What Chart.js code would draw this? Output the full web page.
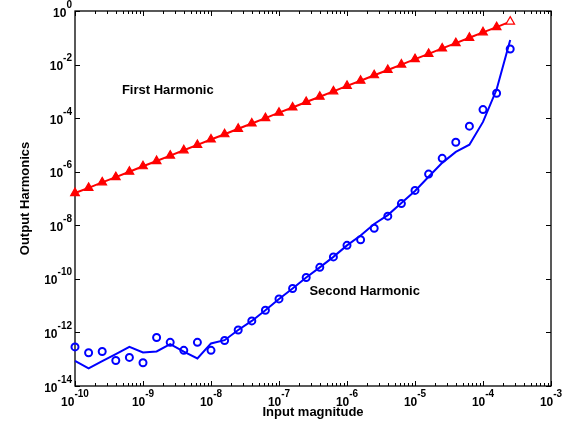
<!DOCTYPE html>
<html>
<head>
<meta charset="utf-8">
<script src="https://cdn.jsdelivr.net/npm/chart.js@4.4.0/dist/chart.umd.min.js"></script>
<style>
  body { margin: 0; background: #fff; }
</style>
</head>
<body>
<canvas id="harmonicos" width="574" height="425"></canvas>
<script>
// dados

const entrada = [
    1e-10, 1.585e-10, 2.512e-10, 3.981e-10, 6.31e-10,
    1e-9, 1.585e-9, 2.512e-9, 3.981e-9, 6.31e-9,
    1e-8, 1.585e-8, 2.512e-8, 3.981e-8, 6.31e-8,
    1e-7, 1.585e-7, 2.512e-7, 3.981e-7, 6.31e-7,
    1e-6, 1.585e-6, 2.512e-6, 3.981e-6, 6.31e-6,
    1e-5, 1.585e-5, 2.512e-5, 3.981e-5, 6.31e-5,
    1e-4, 1.585e-4, 2.512e-4
]

const primeiraHarmonica = [
    1.6e-7, 2.5e-7, 4.0e-7, 6.3e-7,
    1.0e-6, 1.6e-6, 2.5e-6, 4.0e-6, 6.3e-6,
    1.0e-5, 1.6e-5, 2.5e-5, 4.0e-5, 6.3e-5,
    1.0e-4, 1.6e-4, 2.5e-4, 4.0e-4, 6.3e-4,
    1.0e-3, 1.6e-3, 2.5e-3, 4.0e-3, 6.3e-3,
    1.0e-2, 1.6e-2, 2.5e-2, 4.0e-2, 6.3e-2,
    0.10, 0.16, 0.25, 0.40
]

// circulos
const segundaMedida = [
    2.88e-13, 1.74e-13, 1.95e-13, 8.91e-14, 1.17e-13,
    7.41e-14, 6.46e-13, 4.27e-13, 2.14e-13, 4.27e-13,
    2.14e-13, 5.01e-13, 1.23e-12, 2.69e-12, 6.76e-12,
    1.78e-11, 4.37e-11, 1.12e-10, 2.69e-10, 6.61e-10,
    1.78e-9, 2.88e-9, 7.76e-9, 2.19e-8, 6.46e-8,
    2.0e-7, 8.13e-7, 3.16e-6, 1.26e-5, 5.01e-5,
    2.09e-4, 8.51e-4, 3.80e-2
]

// linha continua
const segundaSimulada = [
    8.71e-14, 4.57e-14, 8.51e-14, 1.55e-13, 2.88e-13,
    1.78e-13, 1.95e-13, 3.63e-13, 1.91e-13, 1.07e-13,
    3.89e-13, 5.13e-13, 1.23e-12, 2.69e-12, 6.76e-12,
    1.78e-11, 4.37e-11, 1.12e-10, 2.69e-10, 6.61e-10,
    1.78e-9, 4.17e-9, 1.12e-8, 2.40e-8, 6.76e-8,
    1.91e-7, 6.46e-7, 2.14e-6, 5.50e-6, 1.02e-5,
    7.24e-5, 1.17e-3, 8.32e-2
]

const xTicks = [1e-10, 1e-9, 1e-8, 1e-7, 1e-6, 1e-5, 1e-4, 1e-3]
const xTickExp = ['-10', '-9', '-8', '-7', '-6', '-5', '-4', '-3']
const yTicks = [1, 1e-2, 1e-4, 1e-6, 1e-8, 1e-10, 1e-12, 1e-14]
const yTickExp = ['0', '-2', '-4', '-6', '-8', '-10', '-12', '-14']

const FONTE = '"Liberation Sans", Arial, Helvetica, sans-serif'

function pontos(ys){
    return entrada.map((v, i) => ({x: v, y: ys[i]}))
}

// escreve 10^exp com o expoente elevado
function potencia(ctx, exp, x, y, alinha){
    ctx.font = 'bold 12px ' + FONTE
    const wBase = ctx.measureText('10').width
    ctx.font = 'bold 10px ' + FONTE
    const wExp = ctx.measureText(exp).width
    let x0 = alinha === 'centro' ? x - (wBase + wExp) / 2 : x - wBase - wExp
    ctx.textAlign = 'left'
    ctx.textBaseline = 'alphabetic'
    ctx.font = 'bold 12px ' + FONTE
    ctx.fillText('10', x0, y)
    ctx.font = 'bold 10px ' + FONTE
    ctx.fillText(exp, x0 + wBase, y - 9)
}

const eixosMatlab = {
    id: 'eixosMatlab',
    beforeDatasetsDraw(chart){
        const {ctx, chartArea: a, scales: {x, y}} = chart
        ctx.save()
        ctx.strokeStyle = '#000'
        ctx.lineWidth = 1
        ctx.beginPath()
        // ticks do eixo x (maiores e menores), por dentro
        xTicks.forEach((t, i) => {
            const px = Math.round(x.getPixelForValue(t)) + 0.5
            ctx.moveTo(px, a.bottom); ctx.lineTo(px, a.bottom - 5)
            ctx.moveTo(px, a.top); ctx.lineTo(px, a.top + 5)
            if (i < xTicks.length - 1){
                for (let m = 2; m < 10; m++){
                    const pm = Math.round(x.getPixelForValue(t * m)) + 0.5
                    ctx.moveTo(pm, a.bottom); ctx.lineTo(pm, a.bottom - 3)
                    ctx.moveTo(pm, a.top); ctx.lineTo(pm, a.top + 3)
                }
            }
        })
        yTicks.forEach(t => {
            const py = Math.round(y.getPixelForValue(t)) + 0.5
            ctx.moveTo(a.left, py); ctx.lineTo(a.left + 5, py)
            ctx.moveTo(a.right, py); ctx.lineTo(a.right - 5, py)
        })
        ctx.stroke()
        ctx.lineWidth = 1.3
        ctx.strokeRect(a.left, a.top, a.width, a.height)
        ctx.restore()
    },
    afterDraw(chart){
        const {ctx, chartArea: a, scales: {x, y}} = chart
        ctx.save()
        ctx.fillStyle = '#000'
        xTicks.forEach((t, i) => {
            potencia(ctx, xTickExp[i], x.getPixelForValue(t), 406, 'centro')
        })
        yTicks.forEach((t, i) => {
            potencia(ctx, yTickExp[i], a.left - 3, y.getPixelForValue(t) + 5.5, 'direita')
        })
        // textos dentro do grafico
        ctx.font = 'bold 13px ' + FONTE
        ctx.textAlign = 'left'
        ctx.textBaseline = 'alphabetic'
        ctx.fillText('First Harmonic', x.getPixelForValue(4.9e-10), y.getPixelForValue(1.2e-3) + 4.5)
        ctx.fillText('Second Harmonic', x.getPixelForValue(2.8e-7), y.getPixelForValue(3.8e-11) + 4.5)
        ctx.restore()
    }
}

const ctx = document.getElementById('harmonicos').getContext('2d')

new Chart(ctx, {
    type: 'line',
    data: {
        datasets: [{
            label: 'First Harmonic',
            data: pontos(primeiraHarmonica),
            borderColor: '#ff0000',
            borderWidth: 2,
            pointStyle: 'triangle',
            pointRadius: 5,
            pointBorderWidth: 1.2,
            pointBorderColor: '#ff0000',
            pointBackgroundColor: c => c.dataIndex === entrada.length - 1 ? '#ffffff' : '#ff0000',
            clip: false
        }, {
            label: 'Second Harmonic (pontos)',
            data: pontos(segundaMedida),
            showLine: false,
            borderColor: '#0000ff',
            pointStyle: 'circle',
            pointRadius: 3.5,
            pointBorderWidth: 2,
            pointBorderColor: '#0000ff',
            pointBackgroundColor: 'rgba(0,0,0,0)',
            clip: false
        }, {
            label: 'Second Harmonic',
            data: pontos(segundaSimulada),
            borderColor: '#0000ff',
            borderWidth: 2,
            pointRadius: 0,
            clip: false
        }]
    },
    options: {
        responsive: false,
        animation: false,
        layout: { padding: { top: 11, right: 23, left: 0, bottom: 0 } },
        plugins: {
            legend: { display: false },
            tooltip: { enabled: false }
        },
        elements: { line: { tension: 0 } },
        scales: {
            x: {
                type: 'logarithmic',
                min: 1e-10,
                max: 1e-3,
                ticks: { display: false },
                grid: { display: false },
                border: { display: false },
                title: {
                    display: true,
                    text: 'Input magnitude',
                    color: '#000',
                    font: { family: FONTE, size: 13, weight: 'bold' },
                    padding: { top: 0, bottom: 5 }
                },
                afterFit(scale){ scale.height = 39 }
            },
            y: {
                type: 'logarithmic',
                min: 1e-14,
                max: 1,
                ticks: { display: false },
                grid: { display: false },
                border: { display: false },
                title: {
                    display: true,
                    text: 'Output Harmonics',
                    color: '#000',
                    font: { family: FONTE, size: 13, weight: 'bold' },
                    padding: { top: 18, bottom: 0 }
                },
                afterFit(scale){ scale.width = 75 }
            }
        }
    },
    plugins: [eixosMatlab]
})
</script>
</body>
</html>
